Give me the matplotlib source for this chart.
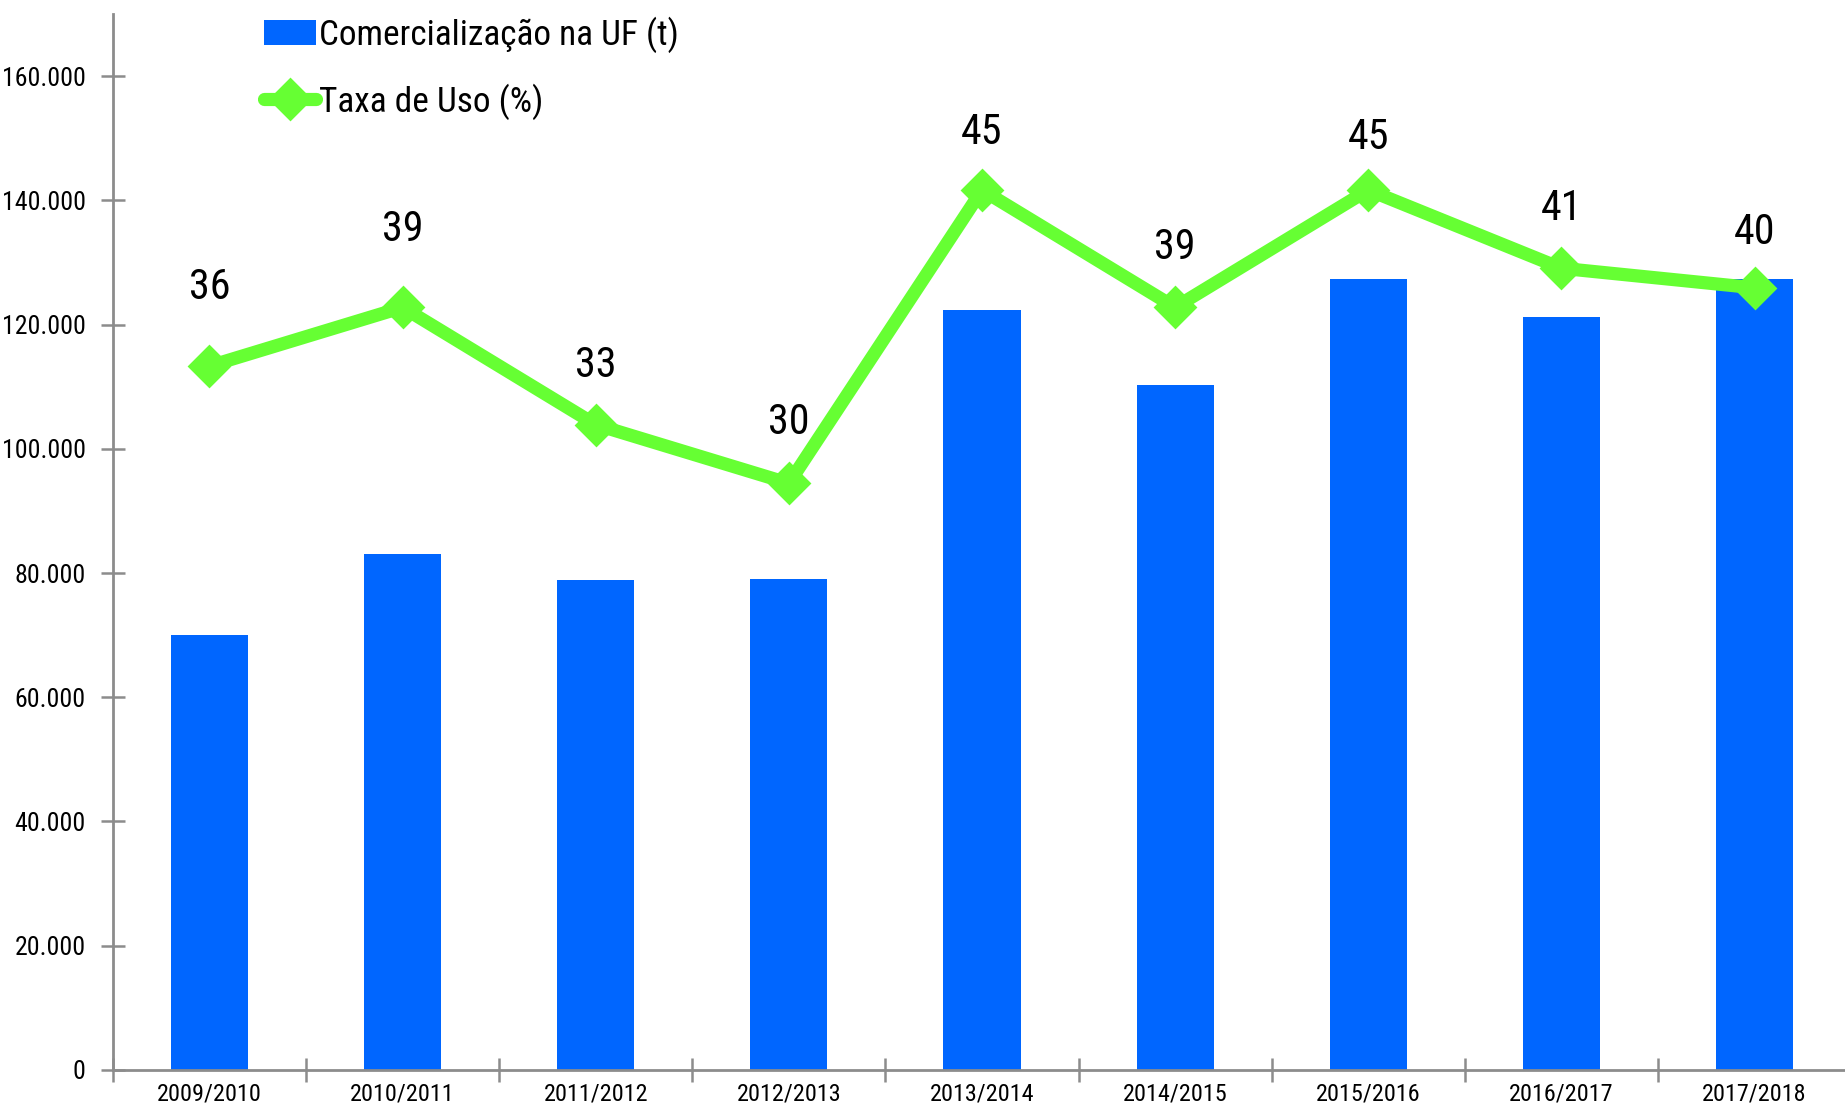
import matplotlib.pyplot as plt
from matplotlib import font_manager
from matplotlib.font_manager import FontProperties
from matplotlib.legend_handler import HandlerPatch
from matplotlib.patches import Rectangle
from matplotlib.textpath import TextPath
from matplotlib.ticker import FuncFormatter, FixedLocator
import numpy as np

FIGX = 18.45
FIGY = 11.06
DPI = 100

BLUE = "#0066FF"
GREEN = "#66FF33"
GREY = "#8C8C8C"

## Font: narrowest sans available -------------------

fonts = font_manager.fontManager.ttflist
names = {f.name for f in fonts}
if "Liberation Sans Narrow" in names:
    plt.rcParams['font.family'] = ['Liberation Sans Narrow', 'DejaVu Sans']
elif "Roboto Condensed" in names:
    plt.rcParams['font.family'] = ['Roboto Condensed', 'DejaVu Sans']
elif any(f.name == "DejaVu Sans" and f.stretch == "condensed" for f in fonts):
    plt.rcParams['font.family'] = ['DejaVu Sans']
    plt.rcParams['font.stretch'] = 'condensed'
else:
    plt.rcParams['font.family'] = ['Liberation Sans', 'DejaVu Sans']


def fit_size(text, width_px, max_pt):
    # font size (pt) giving the text this width in pixels, capped at the reference height size
    fp = FontProperties(family=plt.rcParams['font.family'], stretch=plt.rcParams['font.stretch'])
    w = TextPath((0, 0), text, size=100, prop=fp).get_extents().width * DPI / 72
    return min(100 * width_px / w, max_pt)


## Data ---------------------------------------------

safras = ["2009/2010", "2010/2011", "2011/2012", "2012/2013", "2013/2014",
          "2014/2015", "2015/2016", "2016/2017", "2017/2018"]
comercializacao = [70000, 83000, 78900, 79100, 122300, 110300, 127400, 121300, 127400]
taxa_uso = [36, 39, 33, 30, 45, 39, 45, 41, 40]

# label distance above each point (points)
label_dy = [42, 41, 28, 29, 27, 28, 23, 28, 25]

YTICK_PT = fit_size("160.000", 80, 20)
XTICK_PT = fit_size("2009/2010", 102, 18.5)
LEG_PT = fit_size("Comercialização na UF (t)", 356, 33)
LBL_PT = (fit_size("36", 34, 33) + 33) / 2

## Figure -------------------------------------------

fig = plt.figure(figsize=(FIGX, FIGY), dpi=DPI)
ax = fig.add_axes([0.0612, 0.0326, 0.9421, 0.9547])
ax2 = ax.twinx()

x = np.arange(len(safras))
bars = ax.bar(x, comercializacao, width=0.4, color=BLUE, zorder=2,
              label="Comercialização na UF (t)")

line, = ax2.plot(x, taxa_uso, color=GREEN, lw=9.5, marker="D", ms=17,
                 mec=GREEN, mew=5, solid_joinstyle="round", solid_capstyle="round",
                 label="Taxa de Uso (%)")

for xi, v, dy in zip(x, taxa_uso, label_dy):
    ax2.annotate(f"{v}", (xi, v), xytext=(0, dy), textcoords="offset points",
                 ha="center", va="bottom", fontsize=LBL_PT, color="black")

## Axes ---------------------------------------------

ax.set_xlim(-0.5, len(safras) - 0.5)
ax.set_ylim(0, 170000)
ax2.set_ylim(0, 54)

ax.set_yticks(np.arange(0, 160001, 20000))
ax.yaxis.set_major_formatter(FuncFormatter(lambda v, p: f"{v:,.0f}".replace(",", ".")))
ax.set_xticks(x)
ax.set_xticklabels(safras)
ax.xaxis.set_minor_locator(FixedLocator(np.arange(-0.5, len(safras), 1.0)))

ax.tick_params(axis="y", direction="inout", length=17, width=1.8, color=GREY,
               labelsize=YTICK_PT, pad=11)
ax.tick_params(axis="x", which="major", length=0, labelsize=XTICK_PT, pad=9)
ax.tick_params(axis="x", which="minor", direction="inout", length=17, width=1.8, color=GREY)

for s in ["top", "right"]:
    ax.spines[s].set_visible(False)
    ax2.spines[s].set_visible(False)
for s in ["left", "bottom"]:
    ax.spines[s].set_color(GREY)
    ax.spines[s].set_linewidth(2)
    ax2.spines[s].set_visible(False)
ax2.set_yticks([])

## Legend -------------------------------------------

def thin_patch(legend, orig_handle, xdescent, ydescent, width, height, fontsize):
    h = height * 0.38
    return Rectangle((-xdescent, -ydescent + (height - h) / 2), width, h)

fig.legend([bars, line], [bars.get_label(), line.get_label()],
           loc="upper left", bbox_to_anchor=(0.1355, 0.998), frameon=False,
           fontsize=LEG_PT, handlelength=52 / (LEG_PT * DPI / 72), handletextpad=0.08,
           labelspacing=0.86, borderaxespad=0.0,
           handler_map={bars[0].__class__: HandlerPatch(patch_func=thin_patch)})

fig.savefig("out.png", dpi=DPI)
